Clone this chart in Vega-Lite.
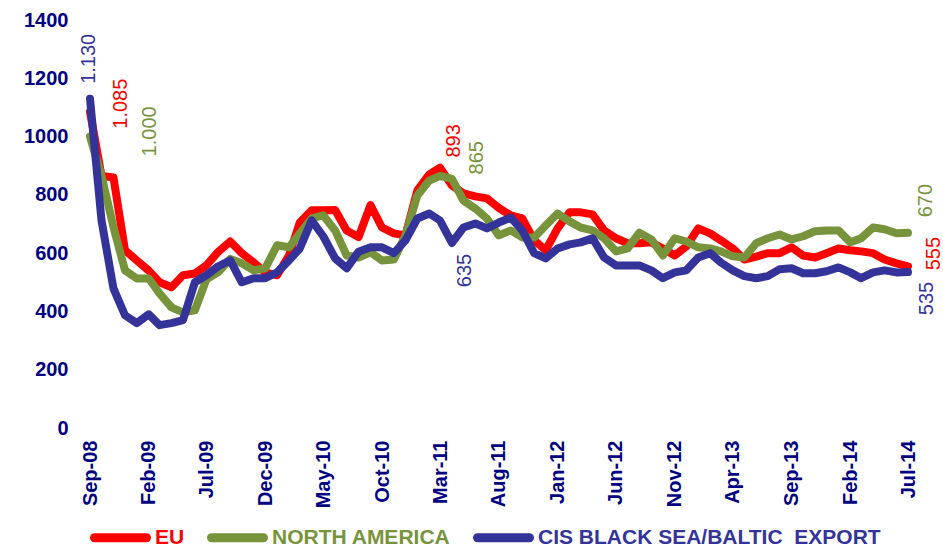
{
  "$schema": "https://vega.github.io/schema/vega-lite/v6.json",
  "width": 818,
  "height": 408,
  "autosize": "none",
  "padding": {"left": 90, "top": 20, "right": 35, "bottom": 120},
  "background": "white",
  "config": {"view": {"stroke": null}, "font": "Liberation Sans"},
  "datasets": {
    "prices": [
      {"date": "2008-09-01", "EU": 1085, "NA": 1000, "CIS": 1130},
      {"date": "2008-10-01", "EU": 865, "NA": 866, "CIS": 712},
      {"date": "2008-11-01", "EU": 860, "NA": 690, "CIS": 479},
      {"date": "2008-12-01", "EU": 610, "NA": 541, "CIS": 387},
      {"date": "2009-01-01", "EU": 575, "NA": 513, "CIS": 360},
      {"date": "2009-02-01", "EU": 540, "NA": 513, "CIS": 390},
      {"date": "2009-03-01", "EU": 500, "NA": 462, "CIS": 353},
      {"date": "2009-04-01", "EU": 483, "NA": 414, "CIS": 360},
      {"date": "2009-05-01", "EU": 524, "NA": 397, "CIS": 370},
      {"date": "2009-06-01", "EU": 530, "NA": 404, "CIS": 500},
      {"date": "2009-07-01", "EU": 558, "NA": 510, "CIS": 524},
      {"date": "2009-08-01", "EU": 605, "NA": 535, "CIS": 555},
      {"date": "2009-09-01", "EU": 640, "NA": 580, "CIS": 575},
      {"date": "2009-10-01", "EU": 600, "NA": 565, "CIS": 500},
      {"date": "2009-11-01", "EU": 568, "NA": 541, "CIS": 514},
      {"date": "2009-12-01", "EU": 534, "NA": 548, "CIS": 514},
      {"date": "2010-01-01", "EU": 524, "NA": 627, "CIS": 534},
      {"date": "2010-02-01", "EU": 592, "NA": 620, "CIS": 575},
      {"date": "2010-03-01", "EU": 705, "NA": 668, "CIS": 616},
      {"date": "2010-04-01", "EU": 747, "NA": 719, "CIS": 712},
      {"date": "2010-05-01", "EU": 747, "NA": 730, "CIS": 658},
      {"date": "2010-06-01", "EU": 748, "NA": 678, "CIS": 582},
      {"date": "2010-07-01", "EU": 678, "NA": 592, "CIS": 548},
      {"date": "2010-08-01", "EU": 655, "NA": 585, "CIS": 605},
      {"date": "2010-09-01", "EU": 765, "NA": 603, "CIS": 620},
      {"date": "2010-10-01", "EU": 688, "NA": 575, "CIS": 620},
      {"date": "2010-11-01", "EU": 668, "NA": 578, "CIS": 600},
      {"date": "2010-12-01", "EU": 661, "NA": 661, "CIS": 644},
      {"date": "2011-01-01", "EU": 815, "NA": 798, "CIS": 719},
      {"date": "2011-02-01", "EU": 870, "NA": 849, "CIS": 736},
      {"date": "2011-03-01", "EU": 893, "NA": 865, "CIS": 712},
      {"date": "2011-04-01", "EU": 832, "NA": 855, "CIS": 635},
      {"date": "2011-05-01", "EU": 805, "NA": 780, "CIS": 688},
      {"date": "2011-06-01", "EU": 795, "NA": 753, "CIS": 702},
      {"date": "2011-07-01", "EU": 788, "NA": 719, "CIS": 685},
      {"date": "2011-08-01", "EU": 755, "NA": 661, "CIS": 705},
      {"date": "2011-09-01", "EU": 730, "NA": 678, "CIS": 722},
      {"date": "2011-10-01", "EU": 719, "NA": 654, "CIS": 678},
      {"date": "2011-11-01", "EU": 644, "NA": 654, "CIS": 600},
      {"date": "2011-12-01", "EU": 610, "NA": 695, "CIS": 582},
      {"date": "2012-01-01", "EU": 685, "NA": 736, "CIS": 616},
      {"date": "2012-02-01", "EU": 740, "NA": 709, "CIS": 630},
      {"date": "2012-03-01", "EU": 740, "NA": 688, "CIS": 637},
      {"date": "2012-04-01", "EU": 733, "NA": 678, "CIS": 651},
      {"date": "2012-05-01", "EU": 678, "NA": 651, "CIS": 585},
      {"date": "2012-06-01", "EU": 651, "NA": 606, "CIS": 558},
      {"date": "2012-07-01", "EU": 634, "NA": 616, "CIS": 558},
      {"date": "2012-08-01", "EU": 634, "NA": 670, "CIS": 558},
      {"date": "2012-09-01", "EU": 637, "NA": 647, "CIS": 541},
      {"date": "2012-10-01", "EU": 616, "NA": 592, "CIS": 514},
      {"date": "2012-11-01", "EU": 592, "NA": 651, "CIS": 534},
      {"date": "2012-12-01", "EU": 623, "NA": 640, "CIS": 541},
      {"date": "2013-01-01", "EU": 685, "NA": 620, "CIS": 585},
      {"date": "2013-02-01", "EU": 668, "NA": 616, "CIS": 600},
      {"date": "2013-03-01", "EU": 644, "NA": 606, "CIS": 568},
      {"date": "2013-04-01", "EU": 616, "NA": 589, "CIS": 541},
      {"date": "2013-05-01", "EU": 578, "NA": 585, "CIS": 521},
      {"date": "2013-06-01", "EU": 588, "NA": 634, "CIS": 514},
      {"date": "2013-07-01", "EU": 600, "NA": 651, "CIS": 521},
      {"date": "2013-08-01", "EU": 600, "NA": 664, "CIS": 545},
      {"date": "2013-09-01", "EU": 620, "NA": 647, "CIS": 548},
      {"date": "2013-10-01", "EU": 592, "NA": 658, "CIS": 531},
      {"date": "2013-11-01", "EU": 585, "NA": 675, "CIS": 531},
      {"date": "2013-12-01", "EU": 600, "NA": 678, "CIS": 538},
      {"date": "2014-01-01", "EU": 616, "NA": 678, "CIS": 551},
      {"date": "2014-02-01", "EU": 610, "NA": 637, "CIS": 534},
      {"date": "2014-03-01", "EU": 606, "NA": 651, "CIS": 514},
      {"date": "2014-04-01", "EU": 600, "NA": 688, "CIS": 534},
      {"date": "2014-05-01", "EU": 578, "NA": 682, "CIS": 541},
      {"date": "2014-06-01", "EU": 565, "NA": 668, "CIS": 534},
      {"date": "2014-07-01", "EU": 555, "NA": 670, "CIS": 535}
    ],
    "labels": [
      {"date": "2008-08-29", "pos": 1181, "label": "1.130", "series": "CIS BLACK SEA/BALTIC\u00a0 EXPORT"},
      {"date": "2008-11-20", "pos": 1027, "label": "1.085", "series": "EU"},
      {"date": "2009-02-04", "pos": 932, "label": "1.000", "series": "NORTH AMERICA"},
      {"date": "2011-04-07", "pos": 928, "label": "893", "series": "EU"},
      {"date": "2011-06-04", "pos": 870, "label": "865", "series": "NORTH AMERICA"},
      {"date": "2011-05-04", "pos": 483, "label": "635", "series": "CIS BLACK SEA/BALTIC\u00a0 EXPORT"},
      {"date": "2014-08-17", "pos": 723, "label": "670", "series": "NORTH AMERICA"},
      {"date": "2014-09-07", "pos": 541, "label": "555", "series": "EU"},
      {"date": "2014-08-20", "pos": 387, "label": "535", "series": "CIS BLACK SEA/BALTIC\u00a0 EXPORT"}
    ]
  },
  "layer": [
    {
      "data": {"name": "prices"},
      "transform": [
        {"fold": ["EU", "NA", "CIS"], "as": ["key", "value"]},
        {"calculate": "datum.key === 'EU' ? 'EU' : (datum.key === 'NA' ? 'NORTH AMERICA' : 'CIS BLACK SEA/BALTIC\u00a0 EXPORT')", "as": "series"}
      ],
      "mark": {"type": "line", "strokeWidth": 8, "strokeJoin": "round", "strokeCap": "round"},
      "encoding": {
        "x": {
          "field": "date", "type": "temporal",
          "scale": {"type": "utc", "domain": [{"year": 2008, "month": 9, "date": 1, "utc": true}, {"year": 2014, "month": 7, "date": 1, "utc": true}]},
          "axis": {
            "title": null, "grid": false, "domain": false, "ticks": false,
            "labelExpr": "utcFormat(datum.value, '%b-%y')",
            "labelAngle": 270, "labelPadding": 12,
            "labelFont": "Liberation Sans", "labelFontSize": 20, "labelFontWeight": "bold", "labelColor": "#000080",
            "labelOverlap": false,
            "values": [
              {"year": 2008, "month": 9, "date": 1, "utc": true},
              {"year": 2009, "month": 2, "date": 1, "utc": true},
              {"year": 2009, "month": 7, "date": 1, "utc": true},
              {"year": 2009, "month": 12, "date": 1, "utc": true},
              {"year": 2010, "month": 5, "date": 1, "utc": true},
              {"year": 2010, "month": 10, "date": 1, "utc": true},
              {"year": 2011, "month": 3, "date": 1, "utc": true},
              {"year": 2011, "month": 8, "date": 1, "utc": true},
              {"year": 2012, "month": 1, "date": 1, "utc": true},
              {"year": 2012, "month": 6, "date": 1, "utc": true},
              {"year": 2012, "month": 11, "date": 1, "utc": true},
              {"year": 2013, "month": 4, "date": 1, "utc": true},
              {"year": 2013, "month": 9, "date": 1, "utc": true},
              {"year": 2014, "month": 2, "date": 1, "utc": true},
              {"year": 2014, "month": 7, "date": 1, "utc": true}
            ]
          }
        },
        "y": {
          "field": "value", "type": "quantitative",
          "scale": {"domain": [0, 1400], "nice": false, "zero": true},
          "axis": {
            "title": null, "grid": false, "domain": false, "ticks": false, "format": "d",
            "values": [0, 200, 400, 600, 800, 1000, 1200, 1400],
            "labelPadding": 22, "labelFont": "Liberation Sans", "labelFontSize": 20, "labelFontWeight": "bold", "labelColor": "#000080"
          }
        },
        "color": {
          "field": "series", "type": "nominal",
          "scale": {"domain": ["EU", "NORTH AMERICA", "CIS BLACK SEA/BALTIC\u00a0 EXPORT"], "range": ["#FF0000", "#77933C", "#333399"]},
          "legend": {
            "title": null, "orient": "none", "legendX": 0, "legendY": 487,
            "direction": "horizontal", "columns": 3, "columnPadding": 8,
            "symbolType": "stroke", "symbolSize": 2704, "symbolStrokeWidth": 9,
            "labelFont": "Liberation Sans", "labelFontSize": 21, "labelFontWeight": "bold", "labelOffset": 4, "labelLimit": 500,
            "encode": {
              "labels": {"update": {"fill": {"scale": "color", "field": "value"}}},
              "symbols": {"update": {"strokeCap": {"value": "round"}}}
            }
          }
        },
        "order": {"field": "date"}
      }
    },
    {
      "data": {"name": "labels"},
      "mark": {"type": "text", "angle": 270, "align": "left", "baseline": "middle", "fontSize": 20, "font": "Liberation Sans"},
      "encoding": {
        "x": {"field": "date", "type": "temporal"},
        "y": {"field": "pos", "type": "quantitative"},
        "text": {"field": "label"},
        "color": {"field": "series", "type": "nominal", "legend": null}
      }
    }
  ]
}
